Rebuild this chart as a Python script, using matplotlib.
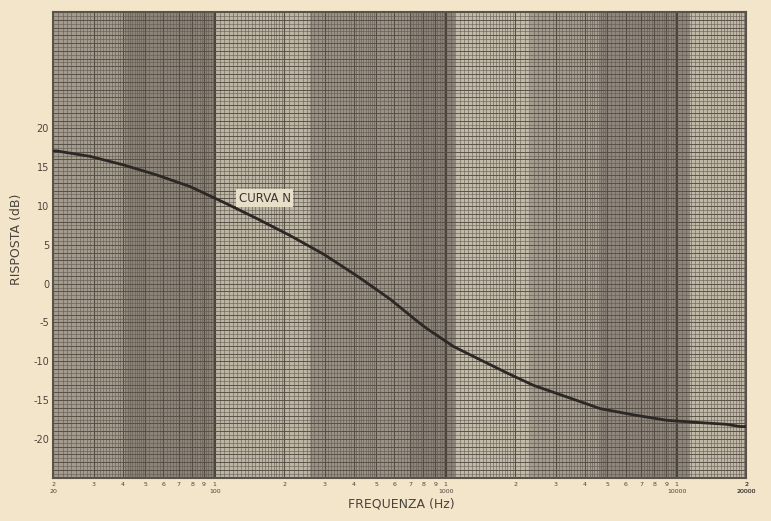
import numpy as np
import matplotlib.pyplot as plt

# curve "N" (Hz, dB)
freq = [20, 20.7, 28.9, 40.3, 56.2, 78.4, 109, 152, 212, 296, 413, 575, 750,
        830, 1082, 1410, 1841, 2400, 3350, 4670, 6500, 9070, 12650, 16230, 18840, 20000]
resp = [17.1, 17.1, 16.4, 15.3, 14.0, 12.5, 10.5, 8.4, 6.2, 3.8, 1.0, -2.0, -4.8,
        -5.8, -8.1, -9.8, -11.5, -13.1, -14.6, -16.1, -16.9, -17.6, -17.9, -18.1, -18.4, -18.4]

ytick_vals = [20, 15, 10, 5, 0, -5, -10, -15, -20]
ytick_text = ['20', '15', '10', '5', '0', '-5', '-10', '-15', '-20']
decades = [20, 100, 1000, 10000, 20000]

paper = '#f3e5c9'
ink = '#4a443e'

fig = plt.figure(figsize=(7.71, 5.21), dpi=100, facecolor=paper)
ax = fig.add_axes([0.069, 0.083, 0.899, 0.894])
ax.set_facecolor('#a9a192')
ax.set_xscale('log')
ax.set_xlim(20, 20000)
ax.set_ylim(-25, 35)

# scan shading bands
bands = [(20, 41, '#a39b8d'), (41, 100, '#8c8479'), (100, 259, '#bdb5a4'),
         (259, 701, '#9a9286'), (701, 1100, '#8c847a'), (1100, 2323, '#c2baa8'),
         (2323, 4670, '#a49c8f'), (4670, 11450, '#8f877d'), (11450, 20000, '#c0b8a6')]
for a, b, c in bands:
    ax.axvspan(a, b, color=c, lw=0, zorder=0)

# fine log grid
vlines = []
for d in [10, 100, 1000, 10000]:
    vlines += list(np.arange(1, 2, 0.05) * d)
    vlines += list(np.arange(2, 5, 0.1) * d)
    vlines += list(np.arange(5, 10, 0.2) * d)
for v in vlines:
    if 20 <= v <= 20000:
        ax.axvline(v, color='#5f574d', lw=0.45, alpha=0.85, zorder=1)
for m in [1, 2, 3, 4, 5, 6, 7, 8, 9]:
    for d in [10, 100, 1000, 10000]:
        if 20 <= m * d <= 20000:
            ax.axvline(m * d, color='#554d44', lw=0.8, zorder=1)
for d in [100, 1000, 10000]:
    ax.axvline(d, color='#4a433b', lw=1.4, zorder=1)
for h in np.arange(-25, 35.01, 0.5):
    ax.axhline(h, color='#5f574d', lw=0.45, alpha=0.85, zorder=1)
for h in np.arange(-25, 35.01, 1):
    ax.axhline(h, color='#554d44', lw=0.6, zorder=1)

ax.plot(freq, resp, color='#2c2725', lw=2.0, zorder=3, solid_capstyle='round')

ax.text(127, 11.0, 'CURVA N', fontsize=8.5, color='#3a3530', va='center', ha='left',
        zorder=4, bbox=dict(boxstyle='square,pad=0.2', fc='#e9dfc9', ec='none'))

for s in ax.spines.values():
    s.set_color('#5a534a')
    s.set_linewidth(1.5)

ax.set_yticks(ytick_vals)
ax.set_yticklabels(ytick_text, fontsize=7, color=ink)

xt = []
xl = []
for d in [10, 100, 1000, 10000]:
    for m in range(1, 10):
        v = m * d
        if 20 <= v <= 20000:
            xt.append(v)
            xl.append(f'{m}\n{v}' if v in decades else f'{m}')
xt.append(20000)
xl.append('2\n20000')
ax.set_xticks(xt)
ax.set_xticklabels(xl, fontsize=4.5, color=ink, linespacing=1.6)
ax.minorticks_off()
ax.tick_params(axis='both', length=0, pad=3)

fig.text(0.52, 0.025, 'FREQUENZA (Hz)', fontsize=9, color=ink, ha='center')
fig.text(0.022, 0.54, 'RISPOSTA (dB)', fontsize=9, color=ink, rotation=90,
         ha='center', va='center')

fig.savefig('out.png', dpi=100, facecolor=paper)
